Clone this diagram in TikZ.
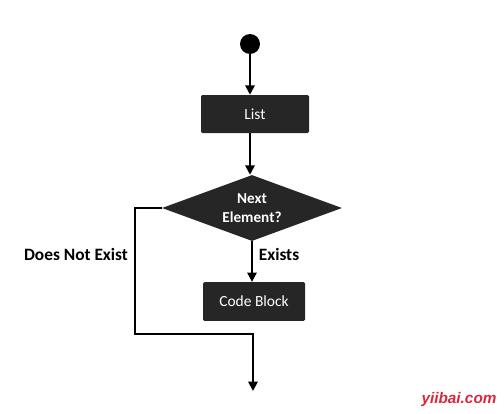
\documentclass[tikz,border=0pt]{standalone}
\usepackage{fontspec}
\setmainfont{Carlito}
\newfontfamily\wmfont{Liberation Sans}
\usetikzlibrary{positioning,shapes.geometric,arrows.meta}
\definecolor{boxgray}{RGB}{38,38,38}
\definecolor{wmred}{RGB}{215,40,60}

\begin{document}
\begin{tikzpicture}[x=0.75pt,y=-0.75pt,
	flow/.style={line width=1.4pt,-{Triangle[length=7pt,width=7pt]}},
	wire/.style={line width=1.4pt},
	block/.style={rectangle,rounded corners=1pt,fill=boxgray,text=white,
		font=\fontsize{11.6}{13}\selectfont,inner sep=0pt},
	decide/.style={diamond,fill=boxgray,text=white,aspect=2.7,inner sep=0pt,
		align=center,font=\fontsize{11.4}{14}\selectfont\bfseries},
	tag/.style={font=\fontsize{13}{15}\selectfont\bfseries}]
	\useasboundingbox (0,0) rectangle (504,414);

	\node[circle,fill=black,minimum size=15pt,inner sep=0pt] (start) at (250,44) {};
	\node[block,minimum width=81pt,minimum height=28.5pt] (list) at (255,114) {List};
	\node[decide,minimum width=135pt,minimum height=49.5pt] (next) at (252,208) {Next\\Element?};
	\node[block,minimum width=76.5pt,minimum height=29pt] (code) at (254,301.5) {Code Block};

	\coordinate (bend) at (135,334);
	\coordinate (out) at (253,391);

	\draw[flow] (start.south) -- (start.south |- list.north);
	\draw[flow] (list.south -| start) -- (next.north -| start);
	\draw[flow] (next.south) -- (next.south |- code.north);
	\draw[flow] (next.west) -| (bend) -| (out);

	\node[tag] (no) at (76,254) {Does Not Exist};
	\node[tag] (yes) at (279,254) {Exists};

	\node[font=\wmfont\fontsize{11.5}{12}\selectfont\bfseries\itshape,text=wmred] (wm) at (459,400) {yiibai.com};
\end{tikzpicture}
\end{document}
